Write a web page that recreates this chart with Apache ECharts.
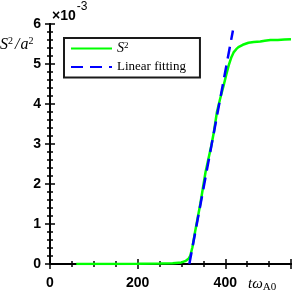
<!DOCTYPE html>
<html><head><meta charset="utf-8">
<script src="https://cdn.jsdelivr.net/npm/echarts@6/dist/echarts.min.js"></script>
<style>html,body{margin:0;padding:0;background:#fff}#c{width:300px;height:300px}</style>
</head><body><div id="c"></div>
<script>
// values of S^2/a^2 are in units of 1e-3
const tValues = [60,100,150,200,250,280,300,310,316,320,325,331,337,343,349,355,362,368,374,381,388,396,402,408,414,419,425,430,440,453,465,480,490,503,520,535,550];
const s2Values = [0,0,0.002,0.005,0.01,0.02,0.04,0.08,0.13,0.2,0.42,0.8,1.15,1.5,1.9,2.3,2.65,2.95,3.3,3.8,4.12,4.45,4.72,4.97,5.17,5.29,5.37,5.42,5.48,5.53,5.55,5.56,5.58,5.6,5.6,5.61,5.62];
const fitT = [318, 417.5];
const fitValues = [0, 5.84];
const xTicks = [0, 200, 400];
const yTicks = [0, 1, 2, 3, 4, 5, 6];

const chart = echarts.init(document.getElementById('c'), null, {renderer:'canvas'});
const labelFont = {fontFamily:'Liberation Sans, Arial, sans-serif', fontWeight:'bold', fontSize:14, color:'#000'};
const axisLine = {show:true, lineStyle:{color:'#000', width:2}};
const tick = {show:true, inside:false, length:5, lineStyle:{color:'#000', width:1.5}};
function xAx(pos, labels){
  return {type:'value', position:pos, min:0, max:550, interval:200,
    axisLine, axisTick:tick, minorTick:{show:true, splitNumber:4, length:3, lineStyle:{color:'#000', width:1.5}},
    splitLine:{show:false},
    axisLabel: labels ? Object.assign({show:true, margin:12, showMaxLabel:false, formatter:v=>xTicks.includes(v)?String(v):''}, labelFont) : {show:false}};
}
function yAx(pos, labels){
  return {type:'value', position:pos, min:0, max:6, interval:1,
    axisLine, axisTick:tick, minorTick:{show:true, splitNumber:5, length:3, lineStyle:{color:'#000', width:1.5}},
    splitLine:{show:false},
    axisLabel: labels ? Object.assign({show:true, margin:9, formatter:v=>yTicks.includes(v)?String(v):''}, labelFont) : {show:false}};
}
chart.setOption({
  animation:false,
  backgroundColor:'#fff',
  grid:{left:50, right:9, top:24, bottom:36},
  xAxis:[xAx('bottom', true), xAx('top', false)],
  yAxis:[yAx('left', true), yAx('right', false)],
  legend:{
    left:64, top:38, orient:'vertical', itemWidth:41, itemHeight:14, itemGap:5,
    padding:[3,14,4,6], borderColor:'#1a1a1a', borderWidth:2, backgroundColor:'#fff',
    itemStyle:{opacity:0},
    textStyle:{fontFamily:'Liberation Serif, serif', fontSize:13, color:'#000',
      rich:{it:{fontFamily:'Liberation Serif, serif', fontStyle:'italic', fontSize:14, color:'#000'},
            sup:{fontFamily:'Liberation Serif, serif', fontSize:9, verticalAlign:'top', padding:[0,0,6,0], color:'#000'},
            n:{fontFamily:'Liberation Serif, serif', fontSize:13, color:'#000'}}},
    formatter: n => n==='S2' ? '{it|S}{sup|2}' : '{n|Linear fitting}',
    data:['S2','Linear fitting']
  },
  series:[
    {name:'S2', type:'line', xAxisIndex:0, yAxisIndex:0, showSymbol:false, symbol:'none',
     data:tValues.map((t,i)=>[t,s2Values[i]]), lineStyle:{color:'#00ff00', width:2.5}, itemStyle:{color:'#00ff00'}, z:2},
    {name:'Linear fitting', type:'line', xAxisIndex:0, yAxisIndex:0, showSymbol:false, symbol:'none',
     data:fitT.map((t,i)=>[t,fitValues[i]]), lineStyle:{color:'#0000ff', width:2.5, type:[12,7]}, itemStyle:{color:'#0000ff'}, z:3}
  ],
  graphic:[
    {type:'text', left:0, top:36, style:{text:'{it|S}{sup|2}{n|/}{it|a}{sup|2}', rich:{
      it:{fontFamily:'Liberation Serif, serif', fontStyle:'italic', fontSize:16, fill:'#000'},
      sup:{fontFamily:'Liberation Serif, serif', fontSize:10, verticalAlign:'top', fill:'#000', padding:[0,1,8,0]},
      n:{fontFamily:'Liberation Serif, serif', fontStyle:'italic', fontSize:16, fill:'#000', padding:[0,1,0,1]}}}},
    {type:'text', left:52, top:1, style:{text:'{a|×10}{b|-3}', rich:{
      a:{fontFamily:'Liberation Sans, Arial, sans-serif', fontSize:14, fontWeight:'bold', fill:'#000', padding:[8,0,0,0]},
      b:{fontFamily:'Liberation Sans, Arial, sans-serif', fontSize:12, fill:'#000', verticalAlign:'top', padding:[0,0,0,1]}}}},
    {type:'text', left:248, top:277, style:{text:'{it|tω}{sub|A0}', rich:{
      it:{fontFamily:'Liberation Serif, serif', fontStyle:'italic', fontSize:15, fill:'#000'},
      sub:{fontFamily:'Liberation Serif, serif', fontSize:11, fill:'#000', verticalAlign:'bottom', padding:[6,0,0,0]}}}}
  ]
});
</script></body></html>
